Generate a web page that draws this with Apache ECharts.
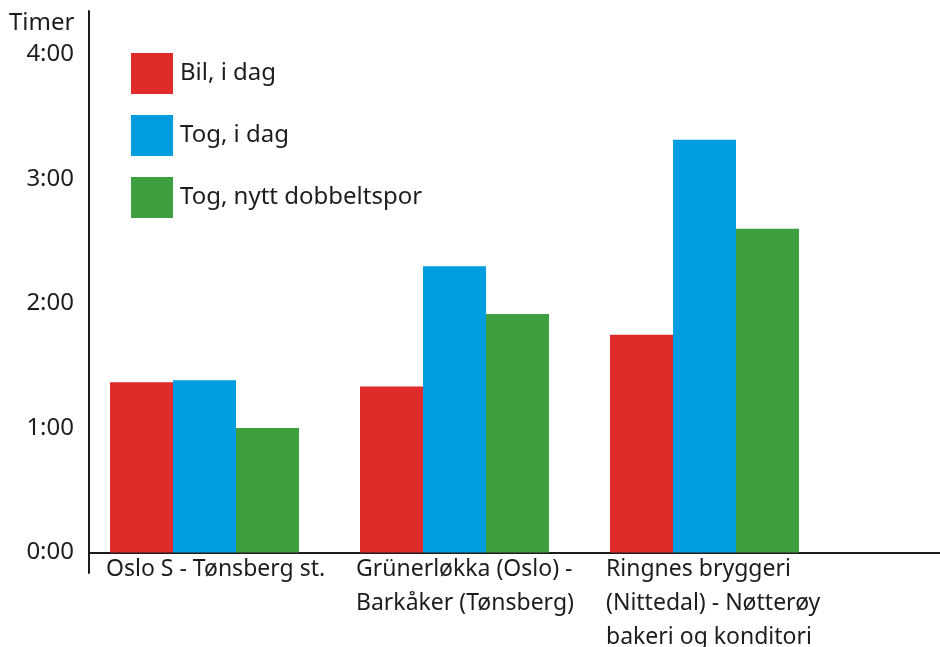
<!DOCTYPE html>
<html>
<head>
<meta charset="utf-8">
<script src="https://cdn.jsdelivr.net/npm/echarts@6/dist/echarts.min.js"></script>
<style>
html,body{margin:0;padding:0;background:#fff;}
#c{width:940px;height:647px;}
</style>
</head>
<body>
<div id="c"></div>
<script>
// ---- data (minutes) ----
const categories = [
  'Oslo S - Tønsberg st.',
  'Grünerløkka (Oslo) -\nBarkåker (Tønsberg)',
  'Ringnes bryggeri\n(Nittedal) - Nøtterøy\nbakeri og konditori'
];
const seriesNames = ['Bil, i dag', 'Tog, i dag', 'Tog, nytt dobbeltspor'];
const bilIDag = [82, 80, 105];
const togIDag = [83, 138, 199];
const togNyttDobbeltspor = [60, 115, 156];
const yTickLabels = ['0:00', '1:00', '2:00', '3:00', '4:00'];
const yAxisName = 'Timer';

const colors = ['#e02b2b', '#009ee0', '#3e9f3e'];
const ink = '#1d1d1b';
const font = 'Noto Sans';

const chart = echarts.init(document.getElementById('c'), null, {renderer: 'canvas'});

const barSeries = [bilIDag, togIDag, togNyttDobbeltspor].map((d, i) => ({
  name: seriesNames[i],
  type: 'bar',
  xAxisIndex: 0,
  yAxisIndex: 0,
  data: d,
  barWidth: 63,
  barGap: '0%',
  itemStyle: {color: colors[i]},
  emphasis: {disabled: true}
}));

const option = {
  animation: false,
  color: colors,
  textStyle: {fontFamily: font, color: ink},
  title: {
    text: yAxisName,
    left: 9,
    top: 11,
    padding: 0,
    textStyle: {fontFamily: font, fontSize: 24, fontWeight: 'normal', color: ink}
  },
  legend: {
    orient: 'vertical',
    left: 131,
    top: 53,
    padding: 0,
    itemWidth: 42,
    itemHeight: 41,
    itemGap: 21,
    icon: 'rect',
    data: seriesNames,
    selectedMode: false,
    textStyle: {fontFamily: font, fontSize: 24, color: ink, padding: [0, 0, 0, 2]}
  },
  grid: [
    {left: 79.5, width: 750, top: 11, bottom: 94.5, outerBoundsMode: 'none', containLabel: false},   // bars
    {left: 89, right: 0, top: 11, bottom: 74, outerBoundsMode: 'none', containLabel: false},         // axis lines
    {left: 106, width: 500, top: 11, bottom: 94.5, outerBoundsMode: 'none', containLabel: false}     // category labels
  ],
  xAxis: [
    {
      gridIndex: 0, type: 'category', data: categories,
      axisLine: {show: false}, axisTick: {show: false}, axisLabel: {show: false},
      splitLine: {show: false}
    },
    {
      gridIndex: 1, type: 'value', min: 0, max: 1,
      axisLine: {show: true, onZero: true, lineStyle: {color: ink, width: 2}},
      axisTick: {show: false}, axisLabel: {show: false}, splitLine: {show: false}
    },
    {
      gridIndex: 2, type: 'category', data: categories, boundaryGap: false,
      axisLine: {show: false}, axisTick: {show: false},
      axisLabel: {
        show: true, interval: 0, align: 'left', margin: 0,
        fontFamily: font, fontSize: 23, lineHeight: 34, color: ink
      },
      splitLine: {show: false}
    }
  ],
  yAxis: [
    {
      gridIndex: 0, type: 'value', min: 0, max: 261, interval: 60, offset: -9.5,
      axisLine: {show: false}, axisTick: {show: false}, splitLine: {show: false},
      axisLabel: {
        show: true, margin: 15, fontFamily: font, fontSize: 24, color: ink,
        formatter: v => (v % 60 === 0 ? (yTickLabels[v / 60] || '') : '')
      }
    },
    {
      gridIndex: 1, type: 'value', min: -9.88, max: 261,
      axisLine: {show: true, onZero: false, lineStyle: {color: ink, width: 2}},
      axisTick: {show: false}, axisLabel: {show: false}, splitLine: {show: false}
    },
    {
      gridIndex: 2, type: 'value', min: 0, max: 261, show: false
    }
  ],
  series: barSeries
};

chart.setOption(option);
</script>
</body>
</html>
